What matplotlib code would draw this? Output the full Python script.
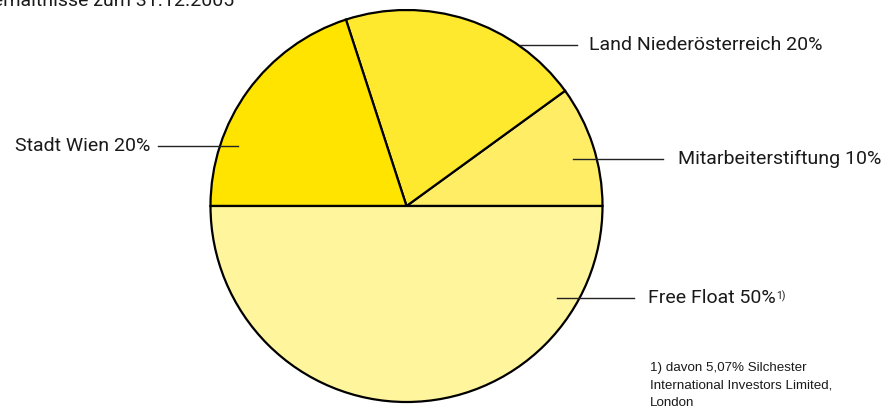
import matplotlib.pyplot as plt

# Beteiligungsverhältnisse zum 31.12.2005
owners = ['Mitarbeiterstiftung', 'Land Niederösterreich', 'Stadt Wien', 'Free Float']
shares = [10, 20, 20, 50]
colors = ['#FFED66', '#FFE92E', '#FFE400', '#FFF59C']

W, H = 892, 408
cx, cy, r = 406.5, 206, 196

label_font = 'Roboto'

fig = plt.figure(figsize=(W / 100, H / 100), dpi=100)
ax = fig.add_axes([(cx - r) / W, (H - cy - r) / H, 2 * r / W, 2 * r / H])
ax.pie(shares, colors=colors, startangle=0, counterclock=True, radius=1,
       wedgeprops=dict(edgecolor='black', linewidth=1.6))
ax.set_xlim(-1, 1)
ax.set_ylim(-1, 1)
ax.set_aspect('auto')
ax.axis('off')


def px(x, y):
    return x / W, 1 - y / H


# leader lines: (x0, x1, y) in pixels
leaders = {
    'Stadt Wien': (158, 238, 146),
    'Land Niederösterreich': (520, 577, 45),
    'Mitarbeiterstiftung': (573, 663, 159),
    'Free Float': (557, 634, 298),
}
for name, (x0, x1, y) in leaders.items():
    (fx0, fy), (fx1, _) = px(x0, y), px(x1, y)
    fig.add_artist(plt.Line2D([fx0, fx1], [fy, fy], color='#222222', lw=1.0))

txt = dict(family=label_font, fontsize=14, color='#1a1a1a', va='center')
fig.text(*px(150, 146), f'Stadt Wien {shares[2]}%', ha='right', **txt)
fig.text(*px(589, 45), f'Land Niederösterreich {shares[1]}%', ha='left', **txt)
fig.text(*px(678, 159), f'Mitarbeiterstiftung {shares[0]}%', ha='left', **txt)
ff = fig.text(*px(648, 298), f'Free Float {shares[3]}%', ha='left', **txt)
ax.annotate('1)', xy=(1, 0.92), xycoords=ff, xytext=(0.5, 0), textcoords='offset points',
            ha='left', va='top', family=label_font, fontsize=7.5, color='#1a1a1a',
            annotation_clip=False)

fig.text(*px(234, 6), 'Beteiligungsverhältnisse zum 31.12.2005', ha='right',
         va='baseline', family=label_font, fontsize=14, color='#1a1a1a')

fig.text(*px(650, 362), '1) davon 5,07% Silchester\nInternational Investors Limited,\nLondon',
         ha='left', va='top', family='Liberation Sans', fontsize=9.6,
         color='#1a1a1a', linespacing=1.6)

fig.savefig('out.png', dpi=100)
